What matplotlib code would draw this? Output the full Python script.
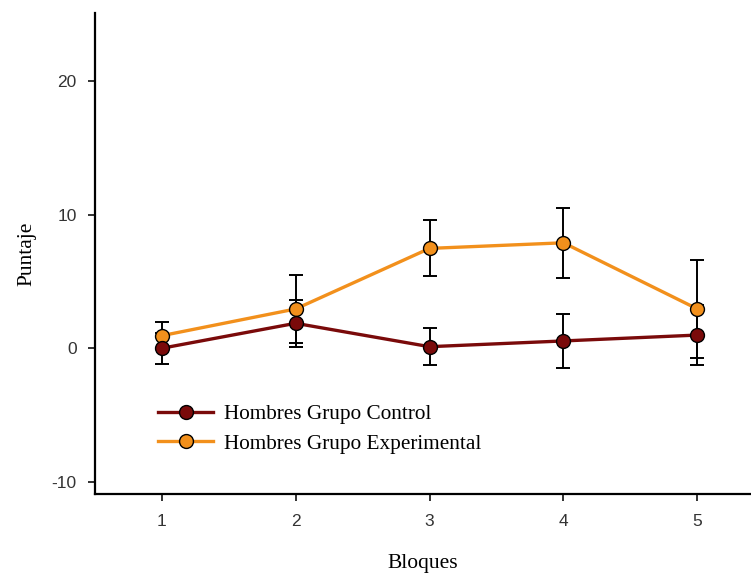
import numpy as np
import matplotlib.pyplot as plt

plt.rcParams['axes.unicode_minus'] = False

bloques = [1, 2, 3, 4, 5]
control = [0.0, 1.87, 0.12, 0.55, 0.99]
control_err = [1.17, 1.75, 1.37, 2.0, 2.27]
experimental = [0.94, 2.94, 7.47, 7.89, 2.94]
experimental_err = [1.0, 2.57, 2.1, 2.6, 3.65]

col_control = '#7a0a0a'
col_exp = '#f2901c'

fig = plt.figure(figsize=(7.51, 5.74), dpi=100)
ax = fig.add_axes([0.126, 0.14, 0.874, 0.837])

# error bars first, then lines with markers on top
ax.errorbar(bloques, experimental, yerr=experimental_err, fmt='none',
            ecolor='black', elinewidth=1.4, capsize=5, capthick=1.4, zorder=2)
ax.errorbar(bloques, control, yerr=control_err, fmt='none',
            ecolor='black', elinewidth=1.4, capsize=5, capthick=1.4, zorder=2)

ax.plot(bloques, experimental, color=col_exp, lw=2.4, marker='o', ms=10,
        mfc=col_exp, mec='black', mew=1.0, label='Hombres Grupo Experimental', zorder=3)
ax.plot(bloques, control, color=col_control, lw=2.4, marker='o', ms=10,
        mfc=col_control, mec='black', mew=1.0, label='Hombres Grupo Control', zorder=4)

ax.set_xlim(0.5, 5.4)
ax.set_ylim(-10.87, 25.06)
ax.set_xticks(bloques)
ax.set_yticks([-10, 0, 10, 20])

ax.spines['top'].set_visible(False)
ax.spines['right'].set_visible(False)
ax.spines['left'].set_linewidth(1.6)
ax.spines['bottom'].set_linewidth(1.6)
ax.tick_params(direction='out', length=5, width=1.3, color='#222222',
               labelsize=12.5, labelcolor='#333333', pad=8)
ax.tick_params(axis='x', pad=10)
for lab in ax.get_xticklabels() + ax.get_yticklabels():
    lab.set_family('Liberation Sans')

ax.set_xlabel('Bloques', family='Liberation Serif', fontsize=15.5, labelpad=18)
ax.set_ylabel('Puntaje', family='Liberation Serif', fontsize=15.5)
ax.yaxis.set_label_coords(-0.088, 0.5)

h, l = ax.get_legend_handles_labels()
ax.legend(h[::-1], l[::-1], loc='center left', bbox_to_anchor=(0.0965, 0.1346),
          frameon=False, borderpad=0, borderaxespad=0, handlelength=2.6,
          handletextpad=0.5, labelspacing=0.45,
          prop={'family': 'Liberation Serif', 'size': 15.3})

fig.savefig('out.png', dpi=100)
